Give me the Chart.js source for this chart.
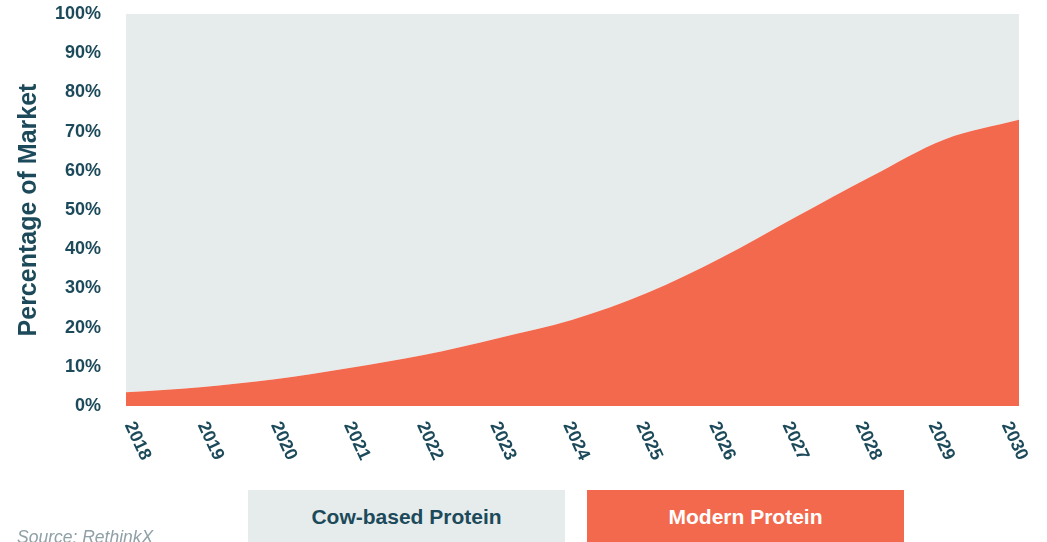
<!DOCTYPE html>
<html>
<head>
<meta charset="utf-8">
<script src="https://cdn.jsdelivr.net/npm/chart.js@4/dist/chart.umd.min.js"></script>
<style>
  html, body { margin: 0; padding: 0; background: #fff; }
  #wrap { position: relative; width: 1047px; height: 542px; overflow: hidden; }
  .legend-box {
    position: absolute; top: 490px; height: 58px; width: 317px;
    display: flex; align-items: center; justify-content: center;
    padding-bottom: 5px; box-sizing: border-box;
    font-family: "Liberation Sans", Arial, sans-serif;
    font-weight: bold; font-size: 21px; white-space: nowrap;
  }
  #source {
    position: absolute; left: 17px; top: 527px;
    font-family: "Liberation Sans", Arial, sans-serif; font-style: italic;
    font-size: 17.5px; color: #8fa0a6;
  }
</style>
</head>
<body>
<div id="wrap">
  <canvas id="shareChart" width="1047" height="542"></canvas>
  <div class="legend-box" style="left:248px; background:#e6ecec; color:#1c4a5a;">Cow-based Protein</div>
  <div class="legend-box" style="left:587px; background:#f2694e; color:#ffffff;">Modern Protein</div>
  <div id="source">Source: RethinkX</div>
</div>
<script>
const years = ['2018', '2019', '2020', '2021', '2022', '2023', '2024', '2025', '2026', '2027', '2028', '2029', '2030'];
// share of market, percent
const modernShare = [3.5, 4.8, 6.8, 9.7, 13, 17.3, 22, 28.8, 37.8, 48.2, 58.4, 68, 73];
const cowShare = [96.5, 95.2, 93.2, 90.3, 87, 82.7, 78, 71.2, 62.2, 51.8, 41.6, 32, 27];
const yTicks = [0, 10, 20, 30, 40, 50, 60, 70, 80, 90, 100];

const textColor = '#1c4a5a';

// x labels are slanted clockwise, which chart.js can't do itself
const slantedLabels = {
    id: 'slantedLabels',
    afterDraw(chart) {
        const ctx = chart.ctx;
        const xs = chart.scales.x;
        const left = chart.chartArea.left;
        ctx.save();
        ctx.fillStyle = textColor;
        ctx.font = 'bold 18px "Liberation Sans", Arial, sans-serif';
        ctx.textAlign = 'left';
        ctx.textBaseline = 'middle';
        years.forEach((y, i) => {
            const p = xs.getPixelForValue(i);
            const x0 = left + 3 + (p - left) * 0.982;
            ctx.save();
            ctx.translate(x0, 423);
            ctx.rotate(65 * Math.PI / 180);
            ctx.fillText(y, 0, 0);
            ctx.restore();
        });
        ctx.restore();
    }
};

const ctx = document.getElementById('shareChart');
new Chart(ctx, {
    type: 'line',
    data: {
        labels: years,
        datasets: [{
            label: 'Modern Protein',
            data: modernShare,
            backgroundColor: '#f2694e',
            borderWidth: 0,
            pointRadius: 0,
            fill: 'origin',
            cubicInterpolationMode: 'monotone'
        }, {
            label: 'Cow-based Protein',
            data: cowShare,
            backgroundColor: '#e6ecec',
            borderWidth: 0,
            pointRadius: 0,
            fill: '-1',
            cubicInterpolationMode: 'monotone'
        }]
    },
    options: {
        responsive: false,
        animation: false,
        layout: { padding: { top: 14, right: 28, bottom: 0, left: 0 } },
        plugins: {
            legend: { display: false },
            tooltip: { enabled: false }
        },
        scales: {
            x: {
                grid: { display: false },
                border: { display: false },
                ticks: { display: false },
                afterFit(scale) { scale.height = 136; }
            },
            y: {
                stacked: true,
                min: 0,
                max: 100,
                grid: {
                    drawOnChartArea: false,
                    drawTicks: true,
                    tickLength: 25,
                    tickColor: 'rgba(0,0,0,0)'
                },
                border: { display: false },
                afterBuildTicks(scale) { scale.ticks = yTicks.map(v => ({ value: v })); },
                afterFit(scale) { scale.width = 126; },
                ticks: {
                    color: textColor,
                    padding: 0,
                    font: { family: '"Liberation Sans", Arial, sans-serif', size: 18, weight: 'bold' },
                    callback: v => v + '%'
                },
                title: {
                    display: true,
                    text: 'Percentage of Market',
                    color: textColor,
                    padding: { top: 14, bottom: 0 },
                    font: { family: '"Liberation Sans", Arial, sans-serif', size: 25, weight: 'bold' }
                }
            }
        }
    },
    plugins: [slantedLabels]
});
</script>
</body>
</html>
